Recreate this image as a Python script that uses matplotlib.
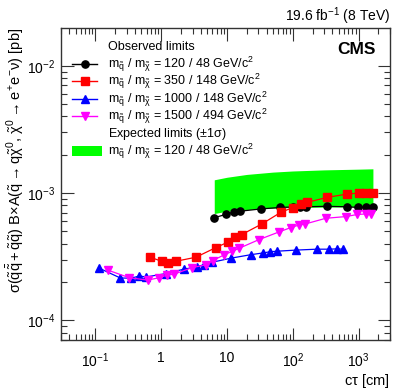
import numpy as np
import matplotlib
matplotlib.use("Agg")
import matplotlib.pyplot as plt
from matplotlib.patches import Rectangle
from matplotlib.lines import Line2D
from matplotlib.ticker import LogLocator, NullFormatter, FixedLocator, FixedFormatter

plt.rcParams['font.family'] = ['Liberation Sans', 'DejaVu Sans']
plt.rcParams['mathtext.fontset'] = 'custom'
plt.rcParams['mathtext.rm'] = 'Liberation Sans'
plt.rcParams['mathtext.it'] = 'Liberation Sans'
plt.rcParams['mathtext.bf'] = 'Liberation Sans:bold'

# ---- data ----
ct_black = [6.4, 9.7, 12.9, 16, 32.7, 64, 99, 128, 157, 328, 660, 980, 1280, 1650]
obs_black = [6.4e-4, 6.8e-4, 7.1e-4, 7.2e-4, 7.5e-4, 7.7e-4, 7.77e-4, 7.77e-4, 7.8e-4,
             7.86e-4, 7.8e-4, 7.7e-4, 7.8e-4, 7.8e-4]

ct_red = [0.68, 1.03, 1.29, 1.68, 3.37, 6.8, 10.2, 13.3, 16.8, 33.8, 66, 100, 132, 166,
          335, 660, 1015, 1280, 1670]
obs_red = [3.13e-4, 2.9e-4, 2.84e-4, 2.91e-4, 3.13e-4, 3.73e-4, 4.1e-4, 4.52e-4, 4.72e-4,
           5.71e-4, 7.06e-4, 7.68e-4, 8.26e-4, 8.45e-4, 9.25e-4, 9.8e-4, 1.0e-3, 1.0e-3, 1.0e-3]

ct_blue = [0.112, 0.239, 0.348, 0.466, 0.588, 1.19, 2.2, 3.47, 4.5, 6.0, 11.6, 23.3, 35,
           45.7, 57.8, 111, 231, 356, 466, 580]
obs_blue = [2.58e-4, 2.15e-4, 2.14e-4, 2.23e-4, 2.19e-4, 2.33e-4, 2.52e-4, 2.63e-4, 2.74e-4,
            2.86e-4, 3.08e-4, 3.28e-4, 3.38e-4, 3.46e-4, 3.49e-4, 3.56e-4, 3.62e-4, 3.62e-4,
            3.64e-4, 3.62e-4]

ct_mag = [0.154, 0.328, 0.622, 0.936, 1.24, 1.55, 2.93, 4.78, 6.03, 9.07, 12.1, 15.3, 30.8,
          62, 93, 125, 154, 317, 637, 955, 1282, 1527]
obs_mag = [2.48e-4, 2.16e-4, 2.07e-4, 2.16e-4, 2.27e-4, 2.30e-4, 2.59e-4, 2.73e-4, 2.94e-4,
           3.27e-4, 3.49e-4, 3.68e-4, 4.31e-4, 4.95e-4, 5.35e-4, 5.61e-4, 5.71e-4, 6.33e-4,
           6.53e-4, 6.78e-4, 6.85e-4, 6.85e-4]

ct_exp = [6.4, 10, 20, 50, 100, 300, 1000, 1650]
exp_up = [1.27e-3, 1.33e-3, 1.40e-3, 1.46e-3, 1.49e-3, 1.52e-3, 1.54e-3, 1.55e-3]
exp_dn = [6.9e-4, 7.2e-4, 7.4e-4, 7.6e-4, 7.7e-4, 7.75e-4, 7.8e-4, 7.8e-4]

labels = [r"m$_{\tilde{q}}$ / m$_{\tilde{\chi}}$ = 120 / 48 GeV/c$^{2}$",
          r"m$_{\tilde{q}}$ / m$_{\tilde{\chi}}$ = 350 / 148 GeV/c$^{2}$",
          r"m$_{\tilde{q}}$ / m$_{\tilde{\chi}}$ = 1000 / 148 GeV/c$^{2}$",
          r"m$_{\tilde{q}}$ / m$_{\tilde{\chi}}$ = 1500 / 494 GeV/c$^{2}$"]
exp_label = r"m$_{\tilde{q}}$ / m$_{\tilde{\chi}}$ = 120 / 48 GeV/c$^{2}$"

xtick_vals = [0.1, 1, 10, 100, 1000]
xtick_labels = [r"10$^{-1}$", "1", "10", r"10$^{2}$", r"10$^{3}$"]
ytick_vals = [1e-4, 1e-3, 1e-2]
ytick_labels = [r"10$^{-4}$", r"10$^{-3}$", r"10$^{-2}$"]

W, H = 407, 391
def fx(px):
    return px / W
def fy(py):
    return 1 - py / H

# ---- figure ----
fig = plt.figure(figsize=(W / 100, H / 100), dpi=100)
ax = fig.add_axes([61/W, 51/H, 329/W, 312/H])
ax.set_xscale('log')
ax.set_yscale('log')
ax.set_xlim(0.03, 3000)
ax.set_ylim(7e-5, 0.0198)

green = '#00ff00'
ax.fill_between(ct_exp, exp_dn, exp_up, color=green, lw=0, zorder=1)

styles = [
    (ct_black, obs_black, 'black', 'o', 5.2),
    (ct_red, obs_red, '#ff0000', 's', 5.8),
    (ct_blue, obs_blue, '#0000ff', '^', 5.8),
    (ct_mag, obs_mag, '#ff00ff', 'v', 5.8),
]
for (x, y, c, m, ms) in styles:
    ax.plot(x, y, color=c, lw=0.9, marker=m, ms=ms, mec=c, mfc=c, zorder=3)

# ticks
ax.xaxis.set_major_locator(FixedLocator(xtick_vals))
ax.xaxis.set_major_formatter(FixedFormatter(xtick_labels))
ax.yaxis.set_major_locator(FixedLocator(ytick_vals))
ax.yaxis.set_major_formatter(FixedFormatter(ytick_labels))
ax.xaxis.set_minor_locator(LogLocator(base=10, subs=np.arange(2, 10), numticks=20))
ax.yaxis.set_minor_locator(LogLocator(base=10, subs=np.arange(2, 10), numticks=20))
ax.xaxis.set_minor_formatter(NullFormatter())
ax.yaxis.set_minor_formatter(NullFormatter())
ax.tick_params(which='both', direction='in', top=True, right=True, width=0.8, colors='#333333',
               labelcolor='black')
ax.tick_params(which='major', length=9, labelsize=10, pad=4)
ax.tick_params(which='minor', length=4.5)
ax.tick_params(axis='x', which='major', pad=8)
for s in ax.spines.values():
    s.set_linewidth(1.0)
    s.set_color('#333333')

ax.set_ylabel(r"$\sigma(\tilde{q}\bar{\tilde{q}}+\tilde{q}\tilde{q})$ B$\times$A$(\tilde{q}\rightarrow q\tilde{\chi}^{0},\,\tilde{\chi}^{0}\rightarrow e^{+}e^{-}\nu)$ [pb]",
              fontsize=10.5, loc='top', labelpad=1)
ax.set_xlabel(r"c$\tau$ [cm]", fontsize=10.5, loc='right', labelpad=2)

fig.text(fx(390), fy(16), r"19.6 fb$^{-1}$ (8 TeV)", ha='right', va='center', fontsize=10)
fig.text(fx(376), fy(50), "CMS", ha='right', va='center', fontsize=12.5, fontweight='bold')

# ---- legend (drawn manually) ----
lfs = 9.0
text_x = 108
step = 17.5
y0 = 46
fig.text(fx(text_x), fy(y0 + 4), "Observed limits", ha='left', va='baseline', fontsize=lfs)
for i, ((x, y, c, m, ms), lab) in enumerate(zip(styles, labels)):
    ry = y0 + step * (i + 1)
    fig.add_artist(Line2D([fx(72), fx(97)], [fy(ry), fy(ry)], transform=fig.transFigure,
                          color=c, lw=1.0))
    fig.add_artist(Line2D([fx(84.5)], [fy(ry)], transform=fig.transFigure, color=c,
                          marker=m, ms=ms, mec=c, mfc=c, lw=0))
    fig.text(fx(text_x), fy(ry + 4), lab, ha='left', va='baseline', fontsize=lfs)
ry = y0 + step * 5
fig.text(fx(text_x), fy(ry + 4), r"Expected limits ($\pm$1$\sigma$)", ha='left',
         va='baseline', fontsize=lfs)
ry = y0 + step * 6
fig.add_artist(Rectangle((fx(72), fy(ry + 4.5)), fx(102) - fx(72), fy(ry - 4.5) - fy(ry + 4.5),
                         transform=fig.transFigure, facecolor=green, edgecolor='none'))
fig.text(fx(text_x), fy(ry + 4), exp_label, ha='left', va='baseline', fontsize=lfs)

fig.savefig("out.png", dpi=100)
